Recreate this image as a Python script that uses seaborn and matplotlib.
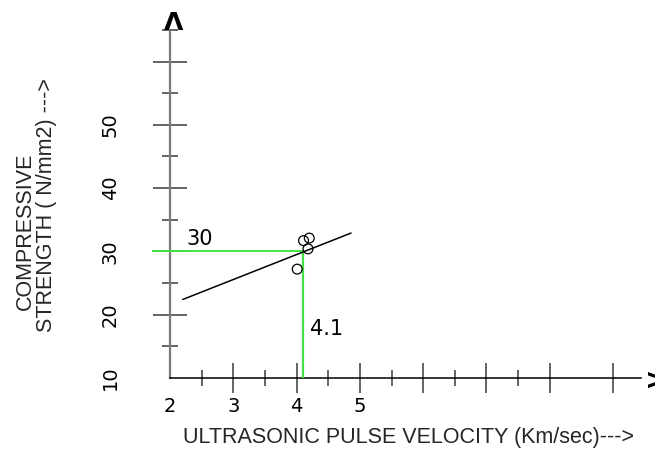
import matplotlib
matplotlib.use("Agg")
import matplotlib.pyplot as plt
import seaborn as sns

# ---- data ----
velocity = [4.11, 4.20, 4.18, 4.01]
strength = [31.7, 32.1, 30.4, 27.2]
fit_velocity = [2.2, 4.86]
fit_strength = [22.4, 32.9]
ref_velocity = 4.1
ref_strength = 30
ref_line_start = 1.72

x_ticks = [2, 3, 4, 5, 6, 7, 8, 9]
x_tick_labels = ["2", "3", "4", "5", "", "", "", ""]
x_minor = [2.5, 3.5, 4.5, 5.5, 6.5, 7.5]
y_ticks = [10, 20, 30, 40, 50, 60]
y_tick_labels = ["10", "20", "30", "40", "50", ""]
y_minor = [15, 25, 35, 45, 55, 65]

x_title = "ULTRASONIC PULSE VELOCITY (Km/sec)--->"
y_title_1 = "COMPRESSIVE"
y_title_2 = "STRENGTH ( N/mm2) --->"
ref_x_text = "4.1"
ref_y_text = "30"

sns.set_theme(style="ticks")
plt.rcParams["font.family"] = ["DejaVu Sans"]

W, H = 655, 454
fig = plt.figure(figsize=(W / 100, H / 100), dpi=100)
ax = fig.add_axes([0, 0, 1, 1])
ax.set_facecolor("white")
ax.set_xlim(-0.6856, 9.662)
ax.set_ylim(-2.006, 69.716)

# green reference lines
green = "#44e044"
ax.hlines(ref_strength, ref_line_start, ref_velocity, color=green, lw=1.4, zorder=3)
ax.vlines(ref_velocity, y_ticks[0], ref_strength, color=green, lw=1.6, zorder=3)

# fitted line and points
sns.lineplot(x=fit_velocity, y=fit_strength, ax=ax, color="black", lw=1.1, zorder=4)
sns.scatterplot(x=velocity, y=strength, ax=ax, s=50, marker="o",
                facecolor="none", edgecolor="black", linewidth=0.9, zorder=5)
for c in ax.collections:
    if c.get_offsets().shape[0] == len(velocity):
        c.set_facecolor("none")
        c.set_edgecolor("black")

# axes as spines through the origin
for s in ["top", "right"]:
    ax.spines[s].set_visible(False)
ax.spines["left"].set_position(("data", x_ticks[0]))
ax.spines["left"].set_bounds(y_ticks[0], y_minor[-1])
ax.spines["left"].set_color("#7a7a7a")
ax.spines["left"].set_linewidth(1.6)
ax.spines["bottom"].set_position(("data", y_ticks[0]))
ax.spines["bottom"].set_bounds(x_ticks[0], 9.44)
ax.spines["bottom"].set_color("black")
ax.spines["bottom"].set_linewidth(1.1)

ax.set_xticks(x_ticks, labels=x_tick_labels)
ax.set_xticks(x_minor, minor=True)
ax.set_yticks(y_ticks, labels=y_tick_labels)
ax.set_yticks(y_minor, minor=True)
for lab in ax.get_yticklabels():
    lab.set_rotation(90)
    lab.set_va("center")

tick_col = "#4a4a4a"
ax.tick_params(which="both", bottom=True, left=True, top=False, right=False)
ax.tick_params(axis="x", which="major", direction="inout", length=21.6, width=1.2,
               color=tick_col, pad=3, labelsize=14, labelcolor="black")
ax.tick_params(axis="x", which="minor", direction="inout", length=11.5, width=1.2,
               color=tick_col)
ax.tick_params(axis="y", which="major", direction="inout", length=24.5, width=1.2,
               color=tick_col, pad=24, labelsize=14, labelcolor="black")
ax.tick_params(axis="y", which="minor", direction="inout", length=11.5, width=1.2,
               color=tick_col)
ax.xaxis.get_major_ticks()[0].tick1line.set_visible(False)
ax.yaxis.get_major_ticks()[0].tick1line.set_visible(False)
ax.grid(False)

# annotations
ax.text(2.469, 31.0, ref_y_text, ha="center", va="baseline", fontsize=15, color="black")
ax.text(4.48, 16.8, ref_x_text, ha="center", va="baseline", fontsize=15, color="black")

# axis arrows
ax.text(2.05, 65.0, "\u039B", ha="center", va="baseline", fontsize=18,
        fontweight="bold", color="black")
ax.text(9.50, 9.53, ">", ha="left", va="center", fontsize=20,
        fontweight="bold", color="black")

# axis titles
lib = ["Liberation Sans", "DejaVu Sans"]
fig.text(183 / W, 1 - 437 / H, x_title, ha="left", va="center", fontsize=15.5,
         family=lib)
fig.text(25 / W, 1 - 231 / H, y_title_1, ha="center", va="center", rotation=90,
         fontsize=15.5, family=lib)
fig.text(47 / W, 1 - 205 / H, y_title_2, ha="center", va="center", rotation=90,
         fontsize=15.5, family=lib)

fig.savefig("out.png", dpi=100)
